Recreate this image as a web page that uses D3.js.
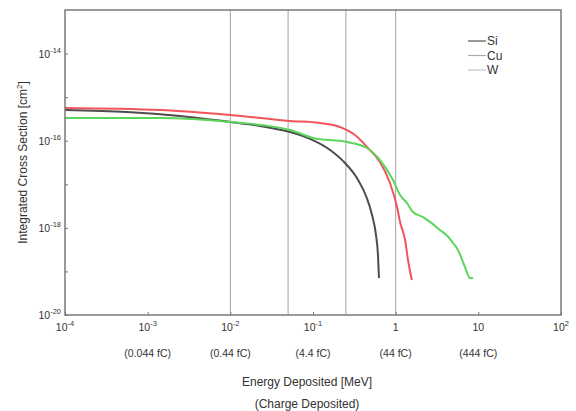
<!DOCTYPE html>
<html>
<head>
<meta charset="utf-8">
<script src="https://cdn.jsdelivr.net/npm/d3@7"></script>
<style>
  body { margin: 0; background: #fff; }
  text { font-family: "Liberation Sans", Arial, sans-serif; fill: #333; }
</style>
</head>
<body>
<div id="chart"></div>
<script>
// data: energy [MeV] vs integrated cross section [cm^2]
var siEnergy = [1e-4, 5.6e-4, 2.46e-3, 1e-2, 0.0229, 0.0527, 0.092, 0.161, 0.244, 0.340, 0.438, 0.518, 0.578, 0.611, 0.628];
var siCross  = [5.07e-16, 4.56e-16, 3.69e-16, 2.69e-16, 2.18e-16, 1.58e-16, 1.10e-16, 6.12e-17, 3.08e-17, 1.39e-17, 5.38e-18, 1.97e-18, 6.86e-19, 2.38e-19, 7.06e-20];

var cuEnergy = [1e-4, 1.41e-3, 1e-2, 0.0527, 0.122, 0.212, 0.322, 0.462, 0.645, 0.853, 1.04, 1.13, 1.30, 1.41, 1.57];
var cuCross  = [5.64e-16, 5.07e-16, 3.90e-16, 2.84e-16, 2.55e-16, 2.07e-16, 1.35e-16, 6.81e-17, 3.25e-17, 1.07e-17, 3.01e-18, 1.36e-18, 5.26e-19, 1.83e-19, 6.35e-20];

var wEnergy = [1e-4, 1.41e-3, 1e-2, 0.0527, 0.1, 0.258, 0.450, 0.645, 0.929, 1.13, 1.37, 1.62, 2.14, 2.70, 3.43, 4.20, 4.93, 5.67, 6.89, 7.93, 8.61];
var wCross  = [3.32e-16, 3.32e-16, 2.69e-16, 1.77e-16, 1.16e-16, 9.35e-17, 6.81e-17, 3.61e-17, 1.25e-17, 5.68e-18, 3.72e-18, 2.31e-18, 1.77e-18, 1.30e-18, 8.93e-19, 6.60e-19, 4.50e-19, 3.11e-19, 1.26e-19, 7.06e-20, 7.06e-20];

var series = [
  { name: "Si", x: siEnergy, y: siCross, color: "#4d4d4f", legend: "#555" },
  { name: "Cu", x: cuEnergy, y: cuCross, color: "#f2545b", legend: "#aaa" },
  { name: "W",  x: wEnergy,  y: wCross,  color: "#5ad65a", legend: "#c4c4c4" }
];

// vertical reference lines [MeV]
var markers = [0.01, 0.05, 0.25, 1];

// tick labels
var xTicks = [1e-4, 1e-3, 1e-2, 1e-1, 1, 10, 100];
var xTickBase = ["10", "10", "10", "10", "1", "10", "10"];
var xTickExp = ["-4", "-3", "-2", "-1", "", "", "2"];
var chargeTicks = [1e-3, 1e-2, 1e-1, 1, 10];
var chargeLabels = ["(0.044 fC)", "(0.44 fC)", "(4.4 fC)", "(44 fC)", "(444 fC)"];
var yMajor = [1e-20, 1e-18, 1e-16, 1e-14];
var yMajorExp = ["-20", "-18", "-16", "-14"];
var yMinor = [1e-19, 1e-17, 1e-15];

var margin = { top: 10, right: 15, bottom: 96, left: 65 };
var width = 576 - margin.left - margin.right;
var height = 411 - margin.top - margin.bottom;

var x = d3.scaleLog().domain([1e-4, 1e2]).range([0, width]);
var y = d3.scaleLog().domain([1e-20, 1e-13]).range([height, 0]);

var svg = d3.select("#chart")
  .append("svg")
    .attr("width", 576)
    .attr("height", 411)
  .append("g")
    .attr("transform", `translate(${margin.left},${margin.top})`);

// reference lines
svg.selectAll(".marker")
  .data(markers)
  .enter().append("line")
    .attr("x1", d => x(d)).attr("x2", d => x(d))
    .attr("y1", 0).attr("y2", height)
    .attr("stroke", "#a3a3a3")
    .attr("stroke-width", 1);

// curves
var line = d3.line()
  .x(d => x(d[0]))
  .y(d => y(d[1]))
  .curve(d3.curveMonotoneX);

series.forEach(function(s) {
  var pts = s.x.map((v, i) => [v, s.y[i]]);
  svg.append("path")
    .datum(pts)
    .attr("fill", "none")
    .attr("stroke", s.color)
    .attr("stroke-width", 2)
    .attr("d", line);
});

// frame
svg.append("rect")
  .attr("width", width)
  .attr("height", height)
  .attr("fill", "none")
  .attr("stroke", "#7a7a7a")
  .attr("stroke-width", 1.5);

// ticks (inward)
svg.append("g")
  .attr("transform", `translate(0,${height})`)
  .call(d3.axisBottom(x).tickValues(xTicks).tickSize(-3).tickFormat(""))
  .call(g => g.select(".domain").remove())
  .call(g => g.selectAll("line").attr("stroke", "#777"));

svg.append("g")
  .call(d3.axisLeft(y).tickValues(yMajor.concat(yMinor)).tickSize(-3).tickFormat(""))
  .call(g => g.select(".domain").remove())
  .call(g => g.selectAll("line").attr("stroke", "#777"));

// x tick labels
var xl = svg.selectAll(".xlab")
  .data(xTicks)
  .enter().append("text")
    .attr("x", d => x(d))
    .attr("y", height + 16)
    .attr("text-anchor", "middle")
    .style("font-size", "10.5px");
xl.append("tspan").text((d, i) => xTickBase[i]);
xl.append("tspan")
  .attr("dy", -5)
  .style("font-size", "7.5px")
  .text((d, i) => xTickExp[i]);

svg.selectAll(".clab")
  .data(chargeTicks)
  .enter().append("text")
    .attr("x", d => x(d))
    .attr("y", height + 42)
    .attr("text-anchor", "middle")
    .style("font-size", "10.5px")
    .text((d, i) => chargeLabels[i]);

// y tick labels
var yl = svg.selectAll(".ylab")
  .data(yMajor)
  .enter().append("text")
    .attr("x", -4)
    .attr("y", d => y(d) + 4)
    .attr("text-anchor", "end")
    .style("font-size", "10.5px");
yl.append("tspan").text("10");
yl.append("tspan")
  .attr("dy", -5)
  .style("font-size", "7.5px")
  .text((d, i) => yMajorExp[i]);

// axis titles
svg.append("text")
  .attr("x", width / 2 - 6)
  .attr("y", height + 71)
  .attr("text-anchor", "middle")
  .style("font-size", "12px")
  .text("Energy Deposited [MeV]");

svg.append("text")
  .attr("x", width / 2 - 6)
  .attr("y", height + 93)
  .attr("text-anchor", "middle")
  .style("font-size", "12px")
  .text("(Charge Deposited)");

var yt = svg.append("text")
  .attr("transform", "rotate(-90)")
  .attr("x", 0 - (height / 2))
  .attr("y", -38)
  .attr("text-anchor", "middle")
  .style("font-size", "12px");
yt.append("tspan").text("Integrated Cross Section [cm");
yt.append("tspan").attr("dy", -5).style("font-size", "8px").text("2");
yt.append("tspan").attr("dy", 5).text("]");

// legend
var legend = svg.selectAll(".legend")
  .data(series)
  .enter().append("g")
    .attr("transform", (d, i) => `translate(${403},${31 + i * 14.5})`);
legend.append("line")
  .attr("x1", 0).attr("x2", 18)
  .attr("stroke", d => d.legend)
  .attr("stroke-width", 1.2);
legend.append("text")
  .attr("x", 19)
  .attr("y", 4)
  .style("font-size", "12px")
  .style("fill", "#333")
  .text(d => d.name);
</script>
</body>
</html>
